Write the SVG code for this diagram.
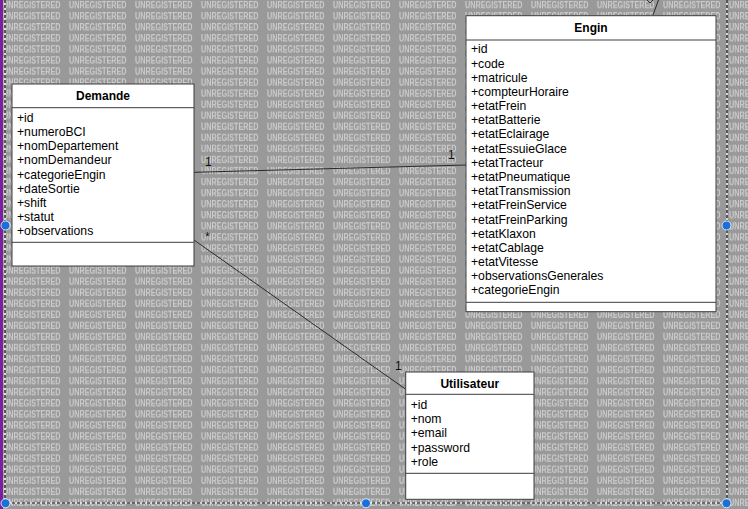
<svg xmlns="http://www.w3.org/2000/svg" width="748" height="509" viewBox="0 0 748 509">
<style>
.box{fill:#ffffff;stroke:#3c3c3c;stroke-width:1}
.sep{stroke:#3c3c3c;stroke-width:1}
.title{font-family:"Liberation Sans",Arial,sans-serif;font-size:12px;font-weight:bold;fill:#000;text-anchor:middle}
.attr{font-family:"Liberation Sans",Arial,sans-serif;font-size:12.2px;fill:#000}
.mult{font-family:"Liberation Sans",Arial,sans-serif;font-size:12px;fill:#111}
.conn{stroke:#2a2a2a;stroke-width:1;fill:none}
.wm{font-family:"Liberation Sans",Arial,sans-serif;font-size:9.5px;font-weight:bold;fill:#cbcbcb}
.dashw{stroke:#ffffff;stroke-width:1.2;fill:none}
.dashb{stroke:#000000;stroke-width:1.2;stroke-dasharray:3 2;fill:none}
.handle{fill:#1a6fd8;stroke:#ffffff;stroke-width:0.8}
</style>
<defs>
<pattern id="wmark" patternUnits="userSpaceOnUse" x="3" y="0" width="66" height="11.06">
<text class="wm" x="0" y="8" textLength="57.5" lengthAdjust="spacingAndGlyphs">UNREGISTERED</text>
</pattern>
</defs>
<rect x="0" y="0" width="748" height="509" fill="#999999"/>
<rect x="0" y="0" width="748" height="509" fill="url(#wmark)"/>
<rect x="0" y="0" width="3" height="509" fill="#7b1fa2"/>

<g id="frame">
<path class="dashw" d="M5,0 V503 H727 V0"/>
<path class="dashb" d="M5,0 V503 H727 V0"/>
</g>

<g id="connectors">
<line class="conn" x1="194" y1="172.3" x2="466" y2="165"/>
<line class="conn" x1="194" y1="240" x2="406" y2="389.5"/>
<path class="conn" d="M658.5,0 L653,15"/>
<path class="conn" d="M647,0 L650,3 L653,0"/>
<text class="mult" x="205" y="166">1</text>
<text class="mult" x="448" y="159">1</text>
<text class="mult" x="205" y="241">*</text>
<text class="mult" x="395" y="370">1</text>
</g>

<g id="Demande">
<rect class="box" x="12" y="84" width="182" height="182"/>
<line class="sep" x1="12" y1="107.7" x2="194" y2="107.7"/>
<line class="sep" x1="12" y1="242.3" x2="194" y2="242.3"/>
<text class="title" x="103" y="100">Demande</text>
<text class="attr" x="17" y="121.7">+id</text>
<text class="attr" x="17" y="135.9">+numeroBCI</text>
<text class="attr" x="17" y="150.1">+nomDepartement</text>
<text class="attr" x="17" y="164.3">+nomDemandeur</text>
<text class="attr" x="17" y="178.5">+categorieEngin</text>
<text class="attr" x="17" y="192.7">+dateSortie</text>
<text class="attr" x="17" y="206.9">+shift</text>
<text class="attr" x="17" y="221.1">+statut</text>
<text class="attr" x="17" y="235.3">+observations</text>
</g>

<g id="Engin">
<rect class="box" x="466" y="15.7" width="250" height="296"/>
<line class="sep" x1="466" y1="40" x2="716" y2="40"/>
<line class="sep" x1="466" y1="302.3" x2="716" y2="302.3"/>
<text class="title" x="591" y="32">Engin</text>
<text class="attr" x="471" y="53.3">+id</text>
<text class="attr" x="471" y="67.5">+code</text>
<text class="attr" x="471" y="81.7">+matricule</text>
<text class="attr" x="471" y="95.8">+compteurHoraire</text>
<text class="attr" x="471" y="110">+etatFrein</text>
<text class="attr" x="471" y="124.2">+etatBatterie</text>
<text class="attr" x="471" y="138.4">+etatEclairage</text>
<text class="attr" x="471" y="152.6">+etatEssuieGlace</text>
<text class="attr" x="471" y="166.7">+etatTracteur</text>
<text class="attr" x="471" y="180.9">+etatPneumatique</text>
<text class="attr" x="471" y="195.1">+etatTransmission</text>
<text class="attr" x="471" y="209.3">+etatFreinService</text>
<text class="attr" x="471" y="223.5">+etatFreinParking</text>
<text class="attr" x="471" y="237.6">+etatKlaxon</text>
<text class="attr" x="471" y="251.8">+etatCablage</text>
<text class="attr" x="471" y="266">+etatVitesse</text>
<text class="attr" x="471" y="280.2">+observationsGenerales</text>
<text class="attr" x="471" y="294.4">+categorieEngin</text>
</g>

<g id="Utilisateur">
<rect class="box" x="405.7" y="372" width="128.3" height="127.3"/>
<line class="sep" x1="405.7" y1="394.3" x2="534" y2="394.3"/>
<line class="sep" x1="405.7" y1="473.3" x2="534" y2="473.3"/>
<text class="title" x="469.8" y="387.6">Utilisateur</text>
<text class="attr" x="410.7" y="409">+id</text>
<text class="attr" x="410.7" y="423.2">+nom</text>
<text class="attr" x="410.7" y="437.4">+email</text>
<text class="attr" x="410.7" y="451.6">+password</text>
<text class="attr" x="410.7" y="465.8">+role</text>
</g>

<g id="handles">
<circle class="handle" cx="5.5" cy="225.5" r="4.5"/>
<circle class="handle" cx="726.5" cy="225.5" r="4.5"/>
<circle class="handle" cx="5.5" cy="503.3" r="4.5"/>
<circle class="handle" cx="366" cy="503.3" r="4.5"/>
<circle class="handle" cx="726.5" cy="503.3" r="4.5"/>
</g>
</svg>
